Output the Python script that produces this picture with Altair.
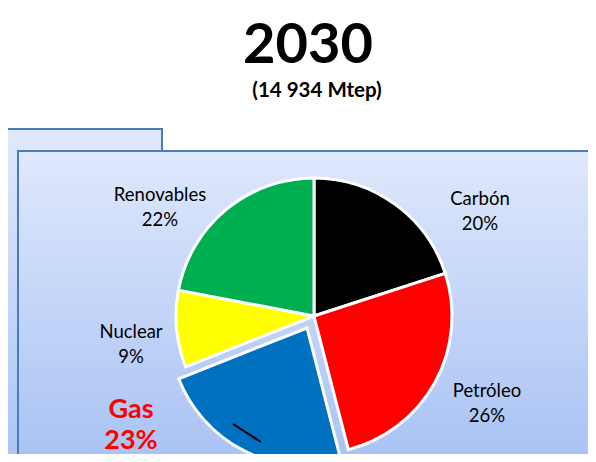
import altair as alt
import pandas as pd

# ---- data ----
categories = ["Carbón", "Petróleo", "Gas", "Nuclear", "Renovables"]
shares = [20, 26, 23, 9, 22]
colors = ["#000000", "#ff0000", "#0070c0", "#ffff00", "#00b050"]
title_text = "2030"
subtitle_text = "(14 934 Mtep)"

df = pd.DataFrame({"cat": categories, "share": shares})
df["end"] = df["share"].cumsum()
df["start"] = df["end"] - df["share"]
df["label"] = df["cat"] + "\n" + df["share"].astype(str) + "%"

# ---- layout (pixels) ----
W, H = 580, 446
CX, CY, R = 306, 308, 138
EXPLODE = (-7, 12)
label_pos = {
    "Carbón": (472, 197),
    "Petróleo": (479, 389),
    "Nuclear": (123, 330),
    "Renovables": (152, 193),
}
gas_pos = (123, 410)
FONT = "Lato"

one = alt.Data(values=[{}])

def grad(top, bottom):
    return {
        "gradient": "linear",
        "x1": 0, "x2": 0, "y1": 0, "y2": 1,
        "stops": [{"offset": 0, "color": top}, {"offset": 1, "color": bottom}],
    }

outer = alt.Chart(one).mark_rect(
    fill=grad("#e0e9fc", "#abc5f5"), stroke="#4a7ebb", strokeWidth=2
).encode(x=alt.value(-10), x2=alt.value(154), y=alt.value(121), y2=alt.value(450))

inner = alt.Chart(one).mark_rect(
    fill=grad("#dfe8fc", "#a9c3f4"), stroke="#4a7ebb", strokeWidth=2
).encode(x=alt.value(10), x2=alt.value(640), y=alt.value(143), y2=alt.value(450))

theta_scale = alt.Scale(domain=[0, 100], range=[0, 6.283185307])
color_enc = alt.Color("cat:N", scale=alt.Scale(domain=categories, range=colors), legend=None)

pie_main = alt.Chart(df).transform_filter("datum.cat != 'Gas'").mark_arc(
    outerRadius=R, stroke="white", strokeWidth=3
).encode(
    theta=alt.Theta("start:Q", scale=theta_scale),
    theta2="end:Q",
    color=color_enc,
    x=alt.value(CX), y=alt.value(CY),
)

pie_gas = alt.Chart(df).transform_filter("datum.cat == 'Gas'").mark_arc(
    outerRadius=R, stroke="white", strokeWidth=3
).encode(
    theta=alt.Theta("start:Q", scale=theta_scale),
    theta2="end:Q",
    color=color_enc,
    x=alt.value(CX + EXPLODE[0]), y=alt.value(CY + EXPLODE[1]),
)

leader = alt.Chart(one).mark_rule(color="black", strokeWidth=2).encode(
    x=alt.value(225), y=alt.value(416), x2=alt.value(253), y2=alt.value(434)
)

label_layers = []
for cat, (lx, ly) in label_pos.items():
    label_layers.append(
        alt.Chart(df).transform_filter(alt.datum.cat == cat).mark_text(
            font=FONT, fontSize=18.5, color="#000000", align="center",
            baseline="alphabetic", lineBreak="\n", lineHeight=25,
        ).encode(text="label:N", x=alt.value(lx), y=alt.value(ly))
    )

gas_label = alt.Chart(df).transform_filter("datum.cat == 'Gas'").mark_text(
    font=FONT, fontSize=27, fontWeight="bold", color="#ff0000", align="center",
    baseline="alphabetic", lineBreak="\n", lineHeight=31,
).encode(text="label:N", x=alt.value(gas_pos[0]), y=alt.value(gas_pos[1]))

title = alt.Chart(one).mark_text(
    font=FONT, fontSize=56, fontWeight="bold", color="#000000", align="center", baseline="alphabetic"
).encode(text=alt.value(title_text), x=alt.value(300), y=alt.value(55))

subtitle = alt.Chart(one).mark_text(
    font=FONT, fontSize=20.5, fontWeight="bold", color="#000000", align="center", baseline="alphabetic"
).encode(text=alt.value(subtitle_text), x=alt.value(309), y=alt.value(89))

chart = alt.layer(
    outer, inner, pie_main, pie_gas, leader, *label_layers, gas_label, title, subtitle
).properties(
    width=W, height=H, autosize=alt.AutoSizeParams(type="none"), padding=0
).configure_view(stroke=None)

chart.save("out.html", embed_options={"renderer": "svg", "actions": False})
